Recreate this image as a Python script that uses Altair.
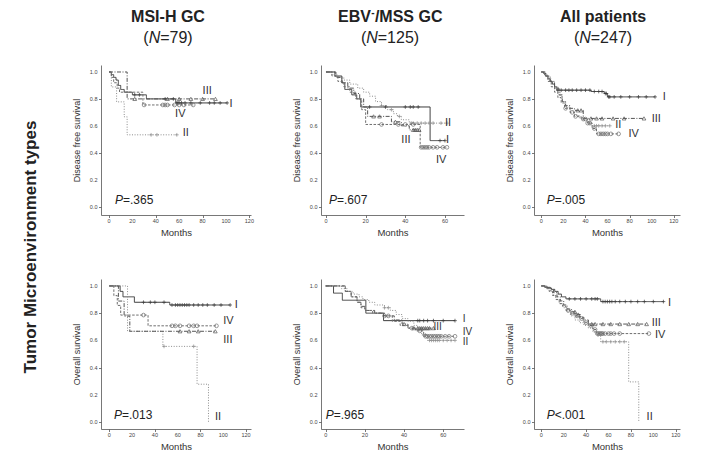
import altair as alt
import pandas as pd

FONT = "Liberation Sans"
GROUPS = ["I", "II", "III", "IV"]
COLORS = ["#3a3a3a", "#8c8c8c", "#555555", "#6e6e6e"]
DASHES = [[1, 0], [1, 1.6], [4, 1.5, 1, 1.5], [2.5, 1.5]]
SHAPES = ["M-1,0L1,0M0,-1L0,1", "M-1,0L1,0M0,-1L0,1", "triangle-up", "circle"]

# Kaplan-Meier curves: t = times of drops, s = survival after drop, end = last follow-up, c = censored times
DFS_MSI = {
    "I": dict(t=[0, 2, 4, 6, 8, 10, 13, 20, 32, 57], s=[1.0, 0.98, 0.96, 0.94, 0.90, 0.87, 0.85, 0.83, 0.80, 0.77],
              end=101, c=[22, 26, 48, 55, 58, 59, 60, 62, 65, 70, 78, 86, 90, 95, 101]),
    "II": dict(t=[0, 2, 6.5, 13, 15.5], s=[1.0, 0.889, 0.778, 0.667, 0.533], end=58, c=[36, 41, 58]),
    "III": dict(t=[0, 15.5], s=[1.0, 0.80], end=91, c=[22, 50, 60, 70, 80, 91]),
    "IV": dict(t=[0, 2, 4, 7, 9, 29], s=[1.0, 0.96, 0.92, 0.88, 0.85, 0.755], end=72,
               c=[30, 46, 48, 50, 56, 60, 64, 72]),
}
DFS_EBV = {
    "I": dict(t=[0, 4.5, 8, 9.5, 13, 15.5, 17.5, 52.5], s=[1, 0.97, 0.92, 0.87, 0.83, 0.80, 0.74, 0.49],
              end=60, c=[22, 30, 40, 42.5, 44, 46.5, 57.5, 60]),
    "II": dict(t=[0, 3, 6, 9, 12, 16, 19, 22, 25, 28, 31, 34, 36, 38, 42],
               s=[1, 0.98, 0.96, 0.94, 0.91, 0.88, 0.85, 0.82, 0.78, 0.75, 0.72, 0.69, 0.67, 0.645, 0.62],
               end=61, c=[28, 33, 37, 43, 44, 46, 48, 50, 52, 54, 58, 61]),
    "III": dict(t=[0, 5, 8, 11, 14, 17, 19, 21, 33, 38, 42],
                s=[1, 0.96, 0.92, 0.88, 0.84, 0.80, 0.74, 0.67, 0.63, 0.60, 0.57],
                end=47, c=[24, 27, 35, 44, 45, 46, 47]),
    "IV": dict(t=[0, 3, 6, 9, 12, 15, 18, 20, 47.5], s=[1, 0.97, 0.93, 0.89, 0.85, 0.80, 0.72, 0.61, 0.44],
               end=61, c=[28, 36.5, 40, 44, 48, 49, 50, 51, 52, 54, 56, 59, 61]),
}
DFS_ALL = {
    "I": dict(t=[0, 2, 4, 6, 8, 10, 12, 14, 45, 57, 60],
              s=[1, 0.99, 0.97, 0.95, 0.93, 0.91, 0.89, 0.865, 0.855, 0.84, 0.815],
              end=103, c=[15, 18, 22, 25, 28, 32, 36, 40, 44, 48, 52, 55, 58, 59, 61, 62, 66, 72, 80, 88, 95, 103]),
    "II": dict(t=[0, 3, 6, 9, 12, 15, 17, 19, 22, 26, 30, 34, 38, 42, 46],
               s=[1, 0.98, 0.95, 0.92, 0.89, 0.86, 0.82, 0.78, 0.74, 0.71, 0.68, 0.66, 0.64, 0.62, 0.60],
               end=62, c=[44, 48, 50, 52, 55, 58, 62]),
    "III": dict(t=[0, 4, 8, 12, 16, 19, 22, 26, 30, 38], s=[1, 0.97, 0.93, 0.88, 0.83, 0.78, 0.75, 0.73, 0.715, 0.655],
                end=93, c=[33, 36, 45, 50, 55, 65, 75, 93]),
    "IV": dict(t=[0, 3, 6, 9, 12, 15, 18, 21, 26, 30, 36, 42, 46, 50],
               s=[1, 0.97, 0.93, 0.89, 0.85, 0.81, 0.77, 0.73, 0.70, 0.67, 0.65, 0.62, 0.58, 0.54],
               end=70, c=[22, 28, 31, 38, 40, 42, 44, 48, 52, 54, 56, 58, 60, 63, 70]),
}
OS_MSI = {
    "I": dict(t=[0, 9.5, 12, 22, 53], s=[1, 0.96, 0.92, 0.88, 0.86], end=106,
              c=[30, 36, 40, 48, 55, 58, 60, 62, 64, 66, 68, 70, 74, 78, 82, 86, 92, 98, 106]),
    "II": dict(t=[0, 16, 47, 77, 87], s=[1, 0.667, 0.556, 0.278, 0.0], end=87, c=[48, 74]),
    "III": dict(t=[0, 8, 13, 18], s=[1, 0.889, 0.778, 0.667], end=93, c=[62, 70, 78, 93]),
    "IV": dict(t=[0, 4, 7, 10, 34], s=[1, 0.929, 0.857, 0.786, 0.707], end=94,
               c=[30, 55, 58, 62, 70, 74, 77, 94]),
}
OS_EBV = {
    "I": dict(t=[0, 4, 8.5, 20.5, 29.5], s=[1, 0.947, 0.895, 0.80, 0.745], end=66,
              c=[47, 48, 50, 52, 55, 60, 66]),
    "II": dict(t=[0, 8, 11, 14, 17, 19, 22, 25, 30, 33, 36, 39, 42, 45, 47, 49, 52],
               s=[1, 0.98, 0.96, 0.94, 0.92, 0.90, 0.88, 0.86, 0.84, 0.82, 0.79, 0.76, 0.74, 0.71, 0.68, 0.64, 0.60],
               end=66, c=[30, 32, 48, 50, 51, 53, 54, 55, 56, 57, 58, 60, 62, 64, 66]),
    "III": dict(t=[0, 10, 13, 16, 18, 20, 25, 30, 35, 39, 42],
                s=[1, 0.96, 0.92, 0.88, 0.85, 0.82, 0.80, 0.78, 0.75, 0.72, 0.69],
                end=55, c=[40, 45, 47, 48, 49, 50, 51, 52, 53, 55]),
    "IV": dict(t=[0, 10, 13, 16, 18, 20, 24, 30, 34, 38, 42, 46, 50],
               s=[1, 0.96, 0.92, 0.88, 0.84, 0.82, 0.80, 0.78, 0.74, 0.71, 0.69, 0.67, 0.63],
               end=66, c=[30, 32, 44, 48, 51, 52, 53, 54, 55, 56, 57, 58, 59, 61, 63, 66]),
}
OS_ALL = {
    "I": dict(t=[0, 3, 6, 9, 12, 15, 18, 22, 53], s=[1, 0.99, 0.985, 0.975, 0.96, 0.94, 0.92, 0.905, 0.885],
              end=109, c=[25, 30, 35, 40, 45, 48, 50, 55, 57, 59, 61, 63, 66, 70, 75, 80, 86, 92, 100, 109]),
    "II": dict(t=[0, 5, 8, 11, 14, 17, 20, 23, 26, 30, 34, 38, 42, 46, 50, 53, 78, 87],
               s=[1, 0.98, 0.96, 0.93, 0.90, 0.87, 0.84, 0.81, 0.78, 0.75, 0.73, 0.71, 0.69, 0.66, 0.63, 0.59, 0.295, 0.0],
               end=87, c=[55, 58, 62, 66, 70, 74]),
    "III": dict(t=[0, 5, 8, 11, 14, 17, 20, 23, 27, 31, 35, 38, 42],
                s=[1, 0.99, 0.97, 0.95, 0.92, 0.89, 0.86, 0.83, 0.81, 0.79, 0.77, 0.75, 0.72],
                end=94, c=[30, 33, 45, 48, 55, 62, 70, 78, 86, 94]),
    "IV": dict(t=[0, 4, 7, 10, 13, 16, 19, 22, 26, 30, 34, 38, 42, 46, 49],
               s=[1, 0.98, 0.96, 0.93, 0.90, 0.87, 0.85, 0.82, 0.80, 0.78, 0.76, 0.73, 0.71, 0.68, 0.65],
               end=96, c=[24, 28, 32, 36, 40, 44, 48, 50, 51, 52, 53, 54, 55, 57, 60, 62, 65, 70, 96]),
}

# Curve labels (months, survival) where the roman numerals sit
LAB_DFS_MSI = {"I": (103, 0.765), "II": (63, 0.543), "III": (80, 0.857), "IV": (56.5, 0.69)}
LAB_DFS_EBV = {"I": (60.5, 0.495), "II": (60, 0.624), "III": (38, 0.495), "IV": (55.5, 0.347)}
LAB_DFS_ALL = {"I": (110, 0.814), "II": (67, 0.603), "III": (100, 0.652), "IV": (79, 0.54)}
LAB_OS_MSI = {"I": (110, 0.858), "II": (92.7, 0.04), "III": (100, 0.6), "IV": (100, 0.74)}
LAB_OS_EBV = {"I": (70, 0.755), "II": (70, 0.585), "III": (55, 0.695), "IV": (70, 0.665)}
LAB_OS_ALL = {"I": (113, 0.877), "II": (94, 0.04), "III": (98.5, 0.73), "IV": (101.5, 0.64)}

PVALS = ["=.365", "=.607", "=.005", "=.013", "=.965", "<.001"]
COL_TITLES = ["MSI-H GC", "EBV", "All patients"]
COL_N = ["79", "125", "247"]

Y_TICKS = [0.0, 0.2, 0.4, 0.6, 0.8, 1.0]
X_TICKS_LONG = [0, 20, 40, 60, 80, 100, 120]
X_TICKS_SHORT = [0, 20, 40, 60]

ONE = pd.DataFrame({"k": [0]})

# approximate Arial advance widths (em)
W_REG = {"(": 0.333, ")": 0.333, "N": 0.722, "=": 0.584, ".": 0.278, "P": 0.667, "<": 0.584}
W_BOLD = {"E": 0.667, "B": 0.722, "V": 0.667, "-": 0.333, "/": 0.278, "M": 0.833, "S": 0.667, " ": 0.278,
          "G": 0.778, "C": 0.722}
HFS = 16


def tw(text, size, table):
    return sum(table.get(ch, 0.556) for ch in text) * size


def txt(px, py, text, size, weight="normal", style="normal", align="left", baseline="alphabetic",
        angle=0, color="#222222"):
    return alt.Chart(ONE).mark_text(
        text=text, fontSize=size, fontWeight=weight, fontStyle=style, align=align,
        baseline=baseline, angle=angle, color=color, font=FONT
    ).encode(x=alt.value(px), y=alt.value(py))


def step_value(ts, ss, x):
    v = ss[0]
    for ti, si in zip(ts, ss):
        if ti <= x:
            v = si
    return v


def panel(curves, labels, width, height, xdom, xticks, ydom, ytitle, extra, labsize=11):
    rows, cens, labs = [], [], []
    for g in GROUPS:
        d = curves[g]
        for ti, si in zip(d["t"], d["s"]):
            rows.append({"g": g, "t": ti, "s": si})
        rows.append({"g": g, "t": d["end"], "s": d["s"][-1]})
        for c in d["c"]:
            cens.append({"g": g, "t": c, "s": step_value(d["t"], d["s"], c)})
        lt, ls = labels[g]
        labs.append({"g": g, "t": lt, "s": ls})
    df, dc, dl = pd.DataFrame(rows), pd.DataFrame(cens), pd.DataFrame(labs)
    dxt = pd.DataFrame({"t": xticks, "lab": [str(v) for v in xticks]})
    dyt = pd.DataFrame({"s": Y_TICKS, "lab": [f"{v:.1f}" for v in Y_TICKS]})

    common = dict(grid=False, labels=False, tickSize=2.5, domainColor="#555555", tickColor="#555555",
                  titleFontWeight="normal", titleColor="#333333", titleFont=FONT,
                  domainWidth=0.8, tickWidth=0.8)
    xax = alt.Axis(values=xticks, title="Months", titlePadding=10, titleFontSize=9.5, **common)
    yax = alt.Axis(values=Y_TICKS, title=ytitle, titlePadding=17, titleFontSize=9, **common)
    xs = alt.Scale(domain=xdom, nice=False, zero=False)
    ys = alt.Scale(domain=ydom, nice=False, zero=False)
    col = alt.Color("g:N", scale=alt.Scale(domain=GROUPS, range=COLORS), legend=None)

    lines = alt.Chart(df).mark_line(interpolate="step-after", strokeWidth=1).encode(
        x=alt.X("t:Q", scale=xs, axis=xax),
        y=alt.Y("s:Q", scale=ys, axis=yax),
        color=col,
        strokeDash=alt.StrokeDash("g:N", scale=alt.Scale(domain=GROUPS, range=DASHES), legend=None),
        detail="g:N",
    )
    marks = alt.Chart(dc).mark_point(filled=False, size=14, strokeWidth=0.7, opacity=1).encode(
        x="t:Q", y="s:Q", color=col,
        shape=alt.Shape("g:N", scale=alt.Scale(domain=GROUPS, range=SHAPES), legend=None),
    )
    text = alt.Chart(dl).mark_text(align="left", baseline="middle", fontSize=labsize, font=FONT,
                                   color="#333333").encode(x="t:Q", y="s:Q", text="g:N")
    xlab = alt.Chart(dxt).mark_text(align="center", baseline="top", fontSize=5.5, font=FONT,
                                    color="#444444").encode(x="t:Q", y=alt.value(height + 4), text="lab:N")
    ylab = alt.Chart(dyt).mark_text(align="right", baseline="middle", fontSize=5.5, font=FONT,
                                    color="#444444").encode(y="s:Q", x=alt.value(-3.5), text="lab:N")
    return alt.layer(lines, marks, text, xlab, ylab, *extra).properties(width=width, height=height)


def p_text(px, py, rest):
    return [txt(px, py, "P", 12, style="italic"), txt(px + 0.667 * 12, py, rest, 12)]


def heading(cx, i):
    out = []
    b1, b2 = -43, -22
    if i == 1:
        w1 = tw("EBV", HFS, W_BOLD)
        w2 = 0.333 * 10
        w3 = tw("/MSS GC", HFS, W_BOLD)
        left = cx - (w1 + w2 + w3) / 2
        out.append(txt(left, b1, "EBV", HFS, weight="bold"))
        out.append(txt(left + w1 + 0.3, b1 - 6, "-", 10, weight="bold"))
        out.append(txt(left + w1 + w2 + 0.6, b1, "/MSS GC", HFS, weight="bold"))
    else:
        out.append(txt(cx, b1, COL_TITLES[i], HFS, weight="bold", align="center"))
    rest = "=" + COL_N[i] + ")"
    wa, wn, wr = tw("(", HFS, W_REG), tw("N", HFS, W_REG), tw(rest, HFS, W_REG)
    left = cx - (wa + wn + wr) / 2
    out.append(txt(left, b2, "(", HFS))
    out.append(txt(left + wa, b2, "N", HFS, style="italic"))
    out.append(txt(left + wa + wn, b2, rest, HFS))
    return out


YDOM_TOP = [-0.063, 1.052]
YDOM_BOT = [-0.051, 1.051]

p11 = panel(DFS_MSI, LAB_DFS_MSI, 150, 150, [-6.84, 121.4], X_TICKS_LONG, YDOM_TOP, "Disease free survival",
            heading(67, 0) + p_text(14, 139, PVALS[0]) +
            [txt(-70, 182, "Tumor Microenvironment types", 17, weight="bold", align="center",
                 baseline="middle", angle=270)])
p12 = panel(DFS_EBV, LAB_DFS_EBV, 143, 150, [-2.52, 69.6], X_TICKS_SHORT, YDOM_TOP, "Disease free survival",
            heading(69, 1) + p_text(8, 139, PVALS[1]))
p13 = panel(DFS_ALL, LAB_DFS_ALL, 146, 150, [-6.61, 125.6], X_TICKS_LONG, YDOM_TOP, "Disease free survival",
            heading(69, 2) + p_text(12.7, 139, PVALS[2]))
p21 = panel(OS_MSI, LAB_OS_MSI, 150, 150, [-7.28, 124.3], X_TICKS_LONG, YDOM_BOT, "Overall survival",
            p_text(13, 140, PVALS[3]))
p22 = panel(OS_EBV, LAB_OS_EBV, 143, 150, [-2.40, 70.6], X_TICKS_SHORT, YDOM_BOT, "Overall survival",
            p_text(4.7, 140, PVALS[4]), labsize=10)
p23 = panel(OS_ALL, LAB_OS_ALL, 146, 150, [-6.52, 123.8], X_TICKS_LONG, YDOM_BOT, "Overall survival",
            p_text(12.7, 140, PVALS[5]))

chart = alt.concat(p11, p12, p13, p21, p22, p23, columns=3,
                   spacing={"row": 64, "column": 70}, bounds="flush", align="each").properties(
    padding={"left": 14, "top": 0, "right": 5, "bottom": 5}
).configure_view(strokeWidth=0)

chart.save("out.html", embed_options={"renderer": "svg", "actions": False})
